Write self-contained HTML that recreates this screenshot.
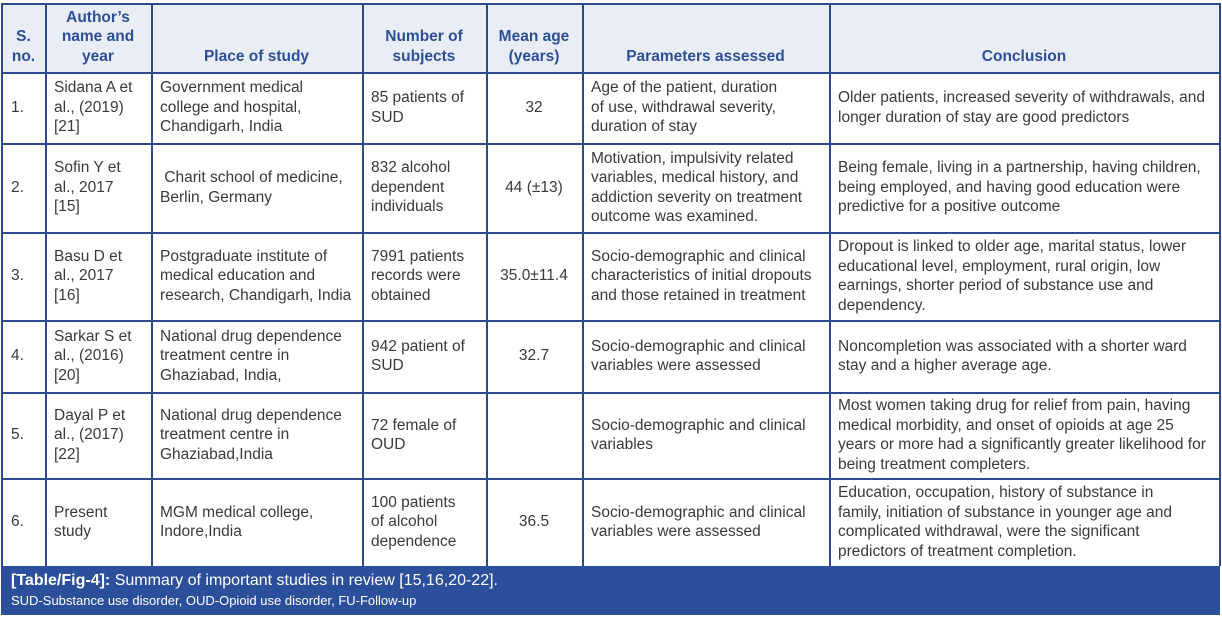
<!DOCTYPE html>
<html><head><meta charset="utf-8"><style>
body{margin:0;width:1222px;height:618px;background:#fff;position:relative;overflow:hidden;font-family:"Liberation Sans",sans-serif;}
.c{position:absolute;box-sizing:border-box;display:flex;flex-direction:column;justify-content:center;padding:0 0 0 9px;font-size:15.5px;line-height:19.5px;color:#3a3a3a;white-space:nowrap;}
.h{justify-content:flex-end;padding:0 0 6px 0;color:#2d4f96;font-weight:bold;font-size:15.5px;text-align:center;align-items:center;background:#e9edf6;}
.ce{align-items:center;text-align:center;padding:0}
.v{position:absolute;top:3px;height:563px;width:1.5px;background:#2d4a8a}
.hl{position:absolute;left:2px;width:1218px;height:1.5px;background:#2d4a8a}
.ft{position:absolute;left:1px;top:566px;width:1219px;height:49px;background:#2c4f9c;color:#fff;padding:4px 10px;box-sizing:border-box;white-space:nowrap}
</style></head><body>
<div class="c h" style="left:2px;top:3px;width:43px;height:69px">S.<br>no.</div>
<div class="c h" style="left:45px;top:3px;width:106px;height:69px">Author’s<br>name and<br>year</div>
<div class="c h" style="left:151px;top:3px;width:211px;height:69px">Place of study</div>
<div class="c h" style="left:362px;top:3px;width:124px;height:69px">Number of<br>subjects</div>
<div class="c h" style="left:486px;top:3px;width:96px;height:69px">Mean age<br>(years)</div>
<div class="c h" style="left:582px;top:3px;width:247px;height:69px">Parameters assessed</div>
<div class="c h" style="left:829px;top:3px;width:390px;height:69px">Conclusion</div>

<div class="c" style="left:2px;top:72px;width:43px;height:71px">1.</div>
<div class="c" style="left:45px;top:72px;width:106px;height:71px">Sidana A et<br>al., (2019)<br>[21]</div>
<div class="c" style="left:151px;top:72px;width:211px;height:71px">Government medical<br>college and hospital,<br>Chandigarh, India</div>
<div class="c" style="left:362px;top:72px;width:124px;height:71px">85 patients of<br>SUD</div>
<div class="c ce" style="left:486px;top:72px;width:96px;height:71px">32</div>
<div class="c" style="left:582px;top:72px;width:247px;height:71px">Age of the patient, duration<br>of use, withdrawal severity,<br>duration of stay</div>
<div class="c" style="left:829px;top:72px;width:390px;height:71px">Older patients, increased severity of withdrawals, and<br>longer duration of stay are good predictors</div>

<div class="c" style="left:2px;top:143px;width:43px;height:89px">2.</div>
<div class="c" style="left:45px;top:143px;width:106px;height:89px">Sofin Y et<br>al., 2017<br>[15]</div>
<div class="c" style="left:151px;top:143px;width:211px;height:89px">&nbsp;Charit school of medicine,<br>Berlin, Germany</div>
<div class="c" style="left:362px;top:143px;width:124px;height:89px">832 alcohol<br>dependent<br>individuals</div>
<div class="c ce" style="left:486px;top:143px;width:96px;height:89px">44 (±13)</div>
<div class="c" style="left:582px;top:143px;width:247px;height:89px">Motivation, impulsivity related<br>variables, medical history, and<br>addiction severity on treatment<br>outcome was examined.</div>
<div class="c" style="left:829px;top:143px;width:390px;height:89px">Being female, living in a partnership, having children,<br>being employed, and having good education were<br>predictive for a positive outcome</div>

<div class="c" style="left:2px;top:232px;width:43px;height:88px">3.</div>
<div class="c" style="left:45px;top:232px;width:106px;height:88px">Basu D et<br>al., 2017<br>[16]</div>
<div class="c" style="left:151px;top:232px;width:211px;height:88px">Postgraduate institute of<br>medical education and<br>research, Chandigarh, India</div>
<div class="c" style="left:362px;top:232px;width:124px;height:88px">7991 patients<br>records were<br>obtained</div>
<div class="c ce" style="left:486px;top:232px;width:96px;height:88px">35.0±11.4</div>
<div class="c" style="left:582px;top:232px;width:247px;height:88px">Socio-demographic and clinical<br>characteristics of initial dropouts<br>and those retained in treatment</div>
<div class="c" style="left:829px;top:232px;width:390px;height:88px">Dropout is linked to older age, marital status, lower<br>educational level, employment, rural origin, low<br>earnings, shorter period of substance use and<br>dependency.</div>

<div class="c" style="left:2px;top:320px;width:43px;height:72px">4.</div>
<div class="c" style="left:45px;top:320px;width:106px;height:72px">Sarkar S et<br>al., (2016)<br>[20]</div>
<div class="c" style="left:151px;top:320px;width:211px;height:72px">National drug dependence<br>treatment centre in<br>Ghaziabad, India,</div>
<div class="c" style="left:362px;top:320px;width:124px;height:72px">942 patient of<br>SUD</div>
<div class="c ce" style="left:486px;top:320px;width:96px;height:72px">32.7</div>
<div class="c" style="left:582px;top:320px;width:247px;height:72px">Socio-demographic and clinical<br>variables were assessed</div>
<div class="c" style="left:829px;top:320px;width:390px;height:72px">Noncompletion was associated with a shorter ward<br>stay and a higher average age.</div>

<div class="c" style="left:2px;top:392px;width:43px;height:86px">5.</div>
<div class="c" style="left:45px;top:392px;width:106px;height:86px">Dayal P et<br>al., (2017)<br>[22]</div>
<div class="c" style="left:151px;top:392px;width:211px;height:86px">National drug dependence<br>treatment centre in<br>Ghaziabad,India</div>
<div class="c" style="left:362px;top:392px;width:124px;height:86px">72 female of<br>OUD</div>
<div class="c" style="left:582px;top:392px;width:247px;height:86px">Socio-demographic and clinical<br>variables</div>
<div class="c" style="left:829px;top:392px;width:390px;height:86px">Most women taking drug for relief from pain, having<br>medical morbidity, and onset of opioids at age 25<br>years or more had a significantly greater likelihood for<br>being treatment completers.</div>

<div class="c" style="left:2px;top:478px;width:43px;height:88px">6.</div>
<div class="c" style="left:45px;top:478px;width:106px;height:88px">Present<br>study</div>
<div class="c" style="left:151px;top:478px;width:211px;height:88px">MGM medical college,<br>Indore,India</div>
<div class="c" style="left:362px;top:478px;width:124px;height:88px">100 patients<br>of alcohol<br>dependence</div>
<div class="c ce" style="left:486px;top:478px;width:96px;height:88px">36.5</div>
<div class="c" style="left:582px;top:478px;width:247px;height:88px">Socio-demographic and clinical<br>variables were assessed</div>
<div class="c" style="left:829px;top:478px;width:390px;height:88px">Education, occupation, history of substance in<br>family, initiation of substance in younger age and<br>complicated withdrawal, were the significant<br>predictors of treatment completion.</div>

<div class="v" style="left:1px"></div><div class="v" style="left:45px"></div><div class="v" style="left:151px"></div>
<div class="v" style="left:362px"></div><div class="v" style="left:486px"></div><div class="v" style="left:582px"></div>
<div class="v" style="left:829px"></div><div class="v" style="left:1219px"></div>
<div class="hl" style="top:3px"></div><div class="hl" style="top:72px"></div><div class="hl" style="top:143px"></div>
<div class="hl" style="top:232px"></div><div class="hl" style="top:320px"></div><div class="hl" style="top:392px"></div>
<div class="hl" style="top:478px"></div>

<div class="ft"><div style="font-size:16px;line-height:22px"><b>[Table/Fig-4]:</b> Summary of important studies in review [15,16,20-22].</div>
<div style="font-size:13px;line-height:17px">SUD-Substance use disorder, OUD-Opioid use disorder, FU-Follow-up</div></div>
</body></html>
